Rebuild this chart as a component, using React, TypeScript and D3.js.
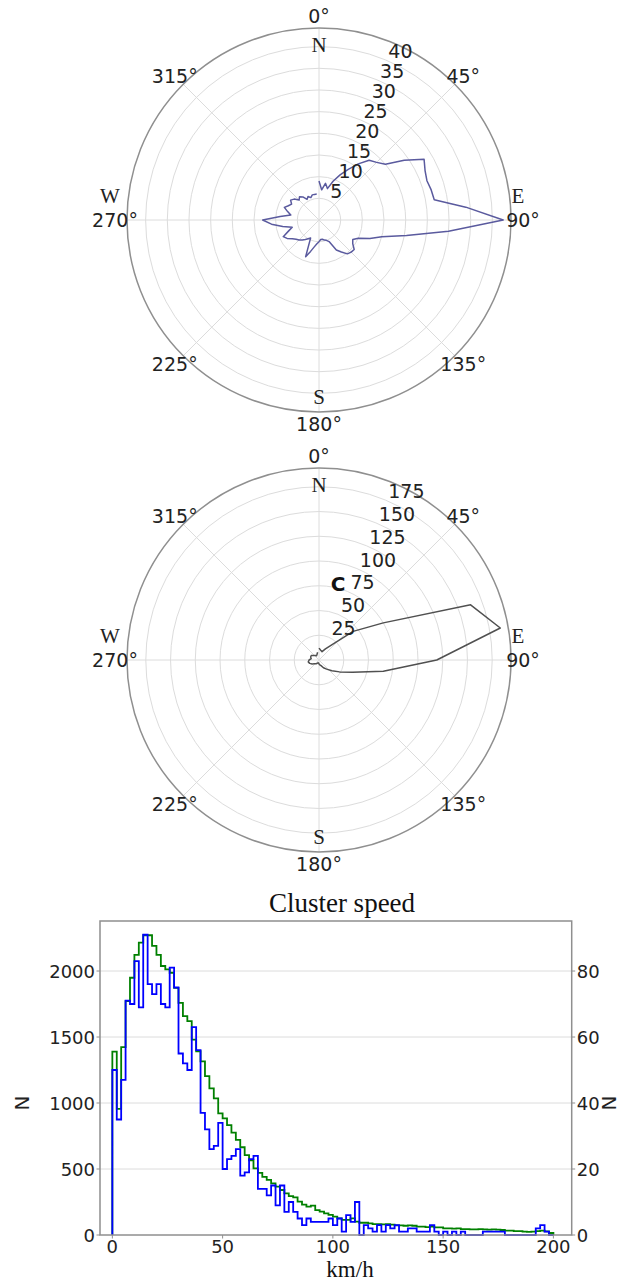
import React from 'react';
import * as d3 from 'd3';

const W = 630;
const H = 1284;

// ---------- Polar 1 (top) ----------
const topAngles = [0, 5, 10, 15, 20, 25, 30, 35, 40, 45, 50, 55, 60, 65, 70, 75, 80, 85, 90, 95, 100, 105, 110, 115, 120, 125, 130, 135, 140, 145, 150, 155, 160, 165, 170, 175, 180, 185, 190, 195, 200, 205, 210, 215, 220, 225, 230, 235, 240, 245, 250, 255, 260, 265, 270, 275, 280, 285, 290, 295, 300, 305, 310, 315, 320, 325, 330, 335, 340, 345, 350, 355];
const topValues = [9, 7, 8.6, 7.5, 9.5, 11.5, 13.5, 15.8, 18, 18.8, 20, 24, 28, 27, 26.5, 26.8, 27, 34, 42.5, 30, 20.5, 15, 12.5, 10, 9, 9.5, 10.6, 10.5, 10.2, 9, 8, 5.5, 5, 4.8, 4.5, 4.5, 5, 5.5, 6.3, 7.5, 9, 4.6, 5, 5.5, 6, 6.5, 6.9, 7.5, 8.5, 9.1, 7.5, 6.4, 8.5, 11, 13, 9, 6.6, 7.5, 8.5, 7.8, 7.3, 8, 7.5, 6.5, 7, 6.5, 5.5, 6, 5.5, 6, 6, 6];
const topTicks = [5, 10, 15, 20, 25, 30, 35, 40];
const topMax = 44.3;

// ---------- Polar 2 (middle) ----------
const midAngles = [0, 10, 20, 30, 40, 50, 60, 70, 80, 90, 100, 110, 120, 130, 140, 150, 160, 170, 180, 190, 200, 210, 220, 230, 240, 250, 260, 270, 280, 290, 300, 310, 320, 330, 340, 350];
const midValues = [12, 10, 9, 13, 20, 45, 75, 163, 186, 119, 66, 36, 24, 17, 12, 9, 6, 5, 4, 3, 3, 4, 5, 6, 8, 10, 11, 10, 8, 9, 9, 7, 6, 5, 6, 8];
const midTicks = [25, 50, 75, 100, 125, 150, 175];
const midMax = 194;

const angleTicks = [0, 45, 90, 135, 180, 225, 270, 315];
const compass = ['N', 'E', 'S', 'W'];

// ---------- Histogram ----------
const binWidth = 2;
const greenCounts = [1390, 955, 1423, 1772, 1949, 2122, 2215, 2271, 2271, 2190, 2122, 2038, 2013, 1987, 1873, 1759, 1658, 1620, 1481, 1392, 1316, 1203, 1111, 1035, 922, 884, 833, 775, 720, 665, 605, 565, 505, 470, 440, 417, 391, 366, 341, 316, 295, 285, 253, 230, 215, 222, 189, 177, 164, 152, 139, 126, 114, 114, 126, 101, 93, 93, 88, 83, 83, 80, 83, 78, 73, 73, 70, 73, 70, 63, 63, 60, 63, 58, 58, 50, 50, 48, 50, 45, 45, 43, 43, 45, 43, 40, 43, 40, 38, 33, 33, 30, 30, 25, 23, 25, 30, 33, 28, 15];
const blueCounts = [50, 35, 47, 71, 70, 83, 69, 91, 76, 73, 76, 70, 69, 81, 75, 55, 52, 50, 63, 56, 37, 32, 26, 27, 34, 20, 23, 24, 26, 18, 19, 23, 24, 14, 14, 12, 15, 9, 15, 7, 10, 7, 5, 3, 5, 4, 4, 4, 4, 5, 3, 5, 1, 6, 4, 10, 0, 3, 2, 1, 3, 1, 3, 2, 3, 1, 1, 2, 2, 1, 1, 1, 3, 1, 0, 1, 0, 1, 0, 1, 0, 0, 0, 0, 1, 1, 1, 1, 1, 0, 0, 0, 0, 0, 0, 0, 2, 3, 1, 0];
const xTicks = [0, 50, 100, 150, 200];
const leftTicks = [0, 500, 1000, 1500, 2000];
const rightTicks = [0, 20, 40, 60, 80];

const SANS = 'DejaVu Sans, sans-serif';
const SERIF = 'Liberation Serif, Times New Roman, serif';

type PolarProps = {
  cx: number; cy: number; R: number; rMax: number;
  angles: number[]; values: number[]; ticks: number[];
  color: string; extra?: React.ReactNode;
};

function Polar({ cx, cy, R, rMax, angles, values, ticks, color, extra }: PolarProps) {
  const rs = d3.scaleLinear().domain([0, rMax]).range([0, R]);
  const pts = angles.map((a, i) => ({ a, r: values[i] }));
  const line = d3.lineRadial<{ a: number; r: number }>()
    .angle(d => (d.a * Math.PI) / 180)
    .radius(d => rs(d.r));
  const rad = (deg: number) => (deg * Math.PI) / 180;
  const labA = rad(22.5);
  const compassPos: [number, number][] = [[0, -175], [199, -24], [0, 177], [-209, -24]];
  return (
    <g>
      {ticks.map(t => (
        <circle key={t} cx={cx} cy={cy} r={rs(t)} fill="none" stroke="#dcdcdc" strokeWidth={1} />
      ))}
      {angleTicks.map(a => (
        <line key={a} x1={cx} y1={cy} x2={cx + R * Math.sin(rad(a))} y2={cy - R * Math.cos(rad(a))} stroke="#dcdcdc" strokeWidth={1} />
      ))}
      <circle cx={cx} cy={cy} r={R} fill="none" stroke="#8f8f8f" strokeWidth={1.5} />
      <path d={line(pts) || ''} transform={`translate(${cx},${cy})`} fill="none" stroke={color} strokeWidth={1.5} strokeLinejoin="round" />
      {ticks.map(t => (
        <text key={t} x={cx + rs(t) * Math.sin(labA) + 3} y={cy - rs(t) * Math.cos(labA) - 2} fontFamily={SANS} fontSize={19} fill="#222">{t}</text>
      ))}
      {angleTicks.map(a => (
        <text key={a} x={cx + (R + 12) * Math.sin(rad(a))} y={cy - (R + 12) * Math.cos(rad(a))} textAnchor="middle" dominantBaseline="central" fontFamily={SANS} fontSize={19} fill="#222">{a}°</text>
      ))}
      {compass.map((c, i) => (
        <text key={c} x={cx + compassPos[i][0]} y={cy + compassPos[i][1]} textAnchor="middle" dominantBaseline="central" fontFamily={SERIF} fontSize={21} fill="#222">{c}</text>
      ))}
      {extra}
    </g>
  );
}

function stepPoints(counts: number[]) {
  const p: [number, number][] = [[0, 0]];
  counts.forEach((c, i) => {
    p.push([i * binWidth, c]);
    p.push([(i + 1) * binWidth, c]);
  });
  p.push([counts.length * binWidth, 0]);
  return p;
}

function Histogram() {
  const left = 100, right = 571.7, top = 921, bottom = 1235;
  const x = d3.scaleLinear().domain([-5.6, 208.3]).range([left, right]);
  const yL = d3.scaleLinear().domain([0, 2379]).range([bottom, top]);
  const yR = d3.scaleLinear().domain([0, 2379 / 25]).range([bottom, top]);
  const gLine = d3.line<[number, number]>().x(d => x(d[0])).y(d => yL(d[1]));
  const bLine = d3.line<[number, number]>().x(d => x(d[0])).y(d => yR(d[1]));
  return (
    <g>
      {leftTicks.slice(1).map(t => (
        <line key={t} x1={left} x2={right} y1={yL(t)} y2={yL(t)} stroke="#dcdcdc" strokeWidth={1} />
      ))}
      <path d={gLine(stepPoints(greenCounts)) || ''} fill="none" stroke="#008000" strokeWidth={1.8} />
      <path d={bLine(stepPoints(blueCounts)) || ''} fill="none" stroke="#0000ff" strokeWidth={1.8} />
      <rect x={left} y={top} width={right - left} height={bottom - top} fill="none" stroke="#8f8f8f" strokeWidth={1.5} />
      {xTicks.map(t => (
        <g key={t}>
          <line x1={x(t)} x2={x(t)} y1={bottom} y2={bottom + 3.5} stroke="#8f8f8f" />
          <text x={x(t)} y={bottom + 18} textAnchor="middle" fontFamily={SANS} fontSize={18} fill="#222">{t}</text>
        </g>
      ))}
      {leftTicks.map(t => (
        <g key={t}>
          <line x1={left - 3.5} x2={left} y1={yL(t)} y2={yL(t)} stroke="#8f8f8f" />
          <text x={left - 5} y={yL(t)} textAnchor="end" dominantBaseline="central" fontFamily={SANS} fontSize={18} fill="#222">{t}</text>
        </g>
      ))}
      {rightTicks.map(t => (
        <g key={t}>
          <line x1={right} x2={right + 3.5} y1={yR(t)} y2={yR(t)} stroke="#8f8f8f" />
          <text x={right + 5} y={yR(t)} dominantBaseline="central" fontFamily={SANS} fontSize={18} fill="#222">{t}</text>
        </g>
      ))}
      <text x={342} y={912} textAnchor="middle" fontFamily={SERIF} fontSize={27} fill="#111">Cluster speed</text>
      <text x={350} y={1277} textAnchor="middle" fontFamily={SERIF} fontSize={23} fill="#111">km/h</text>
      <text transform={`translate(22,1103) rotate(-90)`} textAnchor="middle" dominantBaseline="central" fontFamily={SANS} fontSize={20} fill="#222">N</text>
      <text transform={`translate(609,1103) rotate(-90)`} textAnchor="middle" dominantBaseline="central" fontFamily={SANS} fontSize={20} fill="#222">N</text>
    </g>
  );
}

export default function App() {
  return (
    <svg width={W} height={H} style={{ position: 'absolute', left: 0, top: 0, background: '#fff' }}>
      <rect width={W} height={H} fill="#fff" />
      <Polar cx={319} cy={220} R={192} rMax={topMax} angles={topAngles} values={topValues} ticks={topTicks} color="#5a5a9e" />
      <Polar cx={319} cy={660} R={192} rMax={midMax} angles={midAngles} values={midValues} ticks={midTicks} color="#505050"
        extra={<text x={338} y={584} textAnchor="middle" dominantBaseline="central" fontFamily={SANS} fontWeight="bold" fontSize={20} fill="#111">C</text>} />
      <Histogram />
    </svg>
  );
}
